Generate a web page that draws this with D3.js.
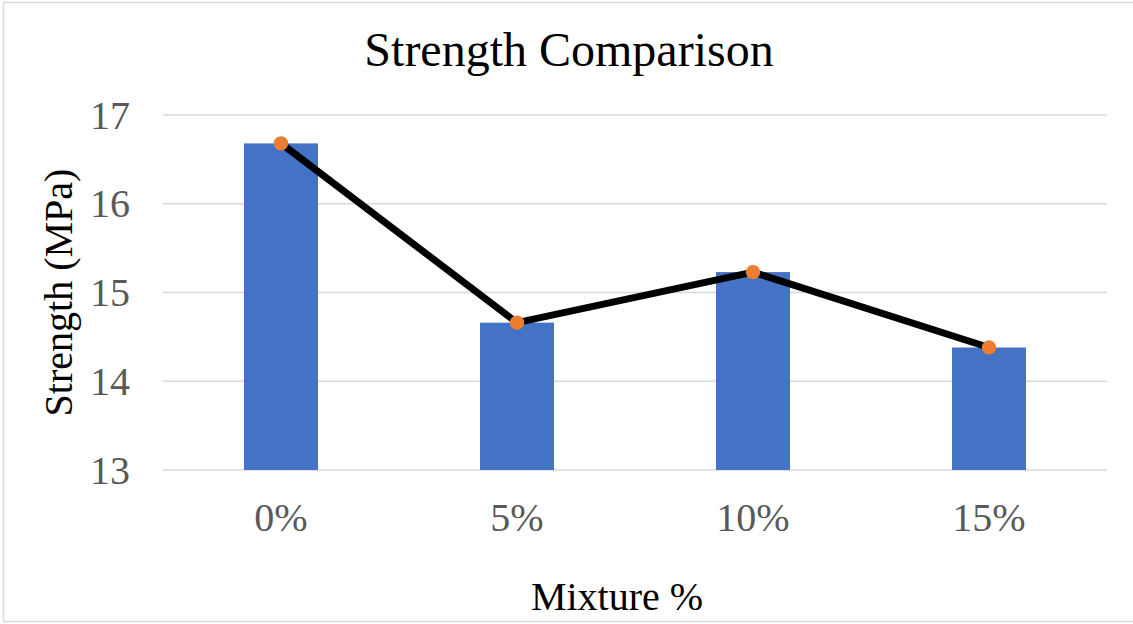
<!DOCTYPE html>
<html>
<head>
<meta charset="utf-8">
<script src="https://cdn.jsdelivr.net/npm/d3@7/dist/d3.min.js"></script>
<style>
  html, body { margin: 0; padding: 0; background: #fff; }
  svg { display: block; }
</style>
</head>
<body>
<svg id="chart" width="1133" height="624"></svg>
<script>
// Chart data
const categories = ["0%", "5%", "10%", "15%"];
const strengthValues = [16.68, 14.66, 15.23, 14.38];
const yTicks = [13, 14, 15, 16, 17];

const W = 1133, H = 624;
const margin = { left: 163, right: 26, top: 115, bottom: 154 };
const plotW = W - margin.left - margin.right;
const plotH = H - margin.top - margin.bottom;

const svg = d3.select("#chart");
const font = "'Liberation Serif', 'Times New Roman', serif";

// Outer chart frame
svg.append("rect")
  .attr("x", 3.5).attr("y", 2.5)
  .attr("width", W + 10).attr("height", 619)
  .attr("fill", "#fff")
  .attr("stroke", "#d9d9d9").attr("stroke-width", 1.5);

const x = d3.scaleBand()
  .domain(categories)
  .range([margin.left, margin.left + plotW])
  .paddingInner(0.6864)
  .paddingOuter(0.3432);

const y = d3.scaleLinear()
  .domain([13, 17])
  .range([margin.top + plotH, margin.top]);

// Horizontal gridlines
svg.append("g")
  .selectAll("line")
  .data(yTicks)
  .join("line")
  .attr("x1", margin.left).attr("x2", margin.left + plotW)
  .attr("y1", d => y(d)).attr("y2", d => y(d))
  .attr("stroke", "#d9d9d9").attr("stroke-width", 1.5);

// Y tick labels
svg.append("g")
  .selectAll("text")
  .data(yTicks)
  .join("text")
  .attr("x", 130)
  .attr("y", d => y(d))
  .attr("dy", "0.34em")
  .attr("text-anchor", "end")
  .attr("font-family", font)
  .attr("font-size", 40)
  .attr("fill", "#595959")
  .text(d => d);

// Bars
svg.append("g")
  .selectAll("rect")
  .data(strengthValues)
  .join("rect")
  .attr("x", (d, i) => x(categories[i]))
  .attr("width", x.bandwidth())
  .attr("y", d => y(d))
  .attr("height", d => y(13) - y(d))
  .attr("fill", "#4472c4");

// X tick labels
svg.append("g")
  .selectAll("text")
  .data(categories)
  .join("text")
  .attr("x", d => x(d) + x.bandwidth() / 2)
  .attr("y", 531)
  .attr("text-anchor", "middle")
  .attr("font-family", font)
  .attr("font-size", 40)
  .attr("fill", "#595959")
  .text(d => d);

// Trend line over bars
const line = d3.line()
  .x((d, i) => x(categories[i]) + x.bandwidth() / 2)
  .y(d => y(d));

svg.append("path")
  .datum(strengthValues)
  .attr("d", line)
  .attr("fill", "none")
  .attr("stroke", "#000")
  .attr("stroke-width", 7)
  .attr("stroke-linejoin", "round");

// Point markers
svg.append("g")
  .selectAll("circle")
  .data(strengthValues)
  .join("circle")
  .attr("cx", (d, i) => x(categories[i]) + x.bandwidth() / 2)
  .attr("cy", d => y(d))
  .attr("r", 7.2)
  .attr("fill", "#ed7d31");

// Title
svg.append("text")
  .attr("x", 569).attr("y", 66)
  .attr("text-anchor", "middle")
  .attr("font-family", font)
  .attr("font-size", 48)
  .attr("fill", "#000")
  .text("Strength Comparison");

// X axis title
svg.append("text")
  .attr("x", 617).attr("y", 610)
  .attr("text-anchor", "middle")
  .attr("font-family", font)
  .attr("font-size", 40)
  .attr("fill", "#000")
  .text("Mixture %");

// Y axis title
svg.append("text")
  .attr("transform", `translate(72, ${margin.top + plotH / 2}) rotate(-90)`)
  .attr("text-anchor", "middle")
  .attr("font-family", font)
  .attr("font-size", 40)
  .attr("fill", "#000")
  .text("Strength (MPa)");
</script>
</body>
</html>
